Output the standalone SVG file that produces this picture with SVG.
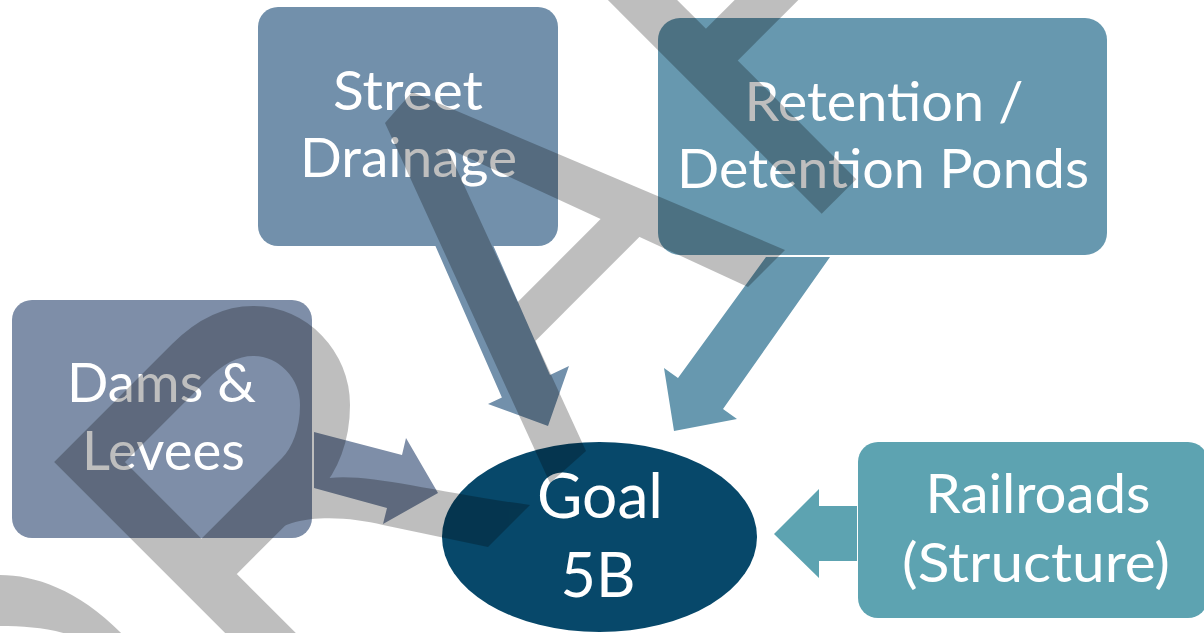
<svg xmlns="http://www.w3.org/2000/svg" width="1204" height="633" viewBox="0 0 1204 633">
<style>
.lbl{font-family:Lato,"Open Sans","Liberation Sans",sans-serif;font-size:54px;fill:#ffffff;text-anchor:middle}
.big{font-size:61px}
.band{fill:none;stroke:#000000;stroke-linejoin:miter}
.fillg{fill:#000000}
</style>
<rect width="1204" height="633" fill="#ffffff"/>
<g id="node-street-drainage">
<rect x="258" y="7" width="300" height="239" rx="20" fill="#7290ab"/>
<text class="lbl" x="408" y="110" textLength="150" lengthAdjust="spacingAndGlyphs">Street</text>
<text class="lbl" x="408.5" y="177" textLength="217" lengthAdjust="spacingAndGlyphs">Drainage</text>
</g>
<g id="node-retention">
<rect x="658" y="18" width="449" height="237" rx="22" fill="#6798af"/>
<text class="lbl" x="884" y="121" textLength="279" lengthAdjust="spacingAndGlyphs">Retention /</text>
<text class="lbl" x="883" y="188" textLength="412" lengthAdjust="spacingAndGlyphs">Detention Ponds</text>
</g>
<g id="node-dams">
<rect x="12" y="300" width="300" height="238" rx="20" fill="#7e8ea8"/>
<text class="lbl" x="161.5" y="402" textLength="189" lengthAdjust="spacingAndGlyphs">Dams &amp;</text>
<text class="lbl" x="163.5" y="470" textLength="163" lengthAdjust="spacingAndGlyphs">Levees</text>
</g>
<g id="node-railroads">
<rect x="858" y="442" width="350" height="176" rx="20" fill="#5da3b1"/>
<text class="lbl" x="1038" y="513" textLength="225" lengthAdjust="spacingAndGlyphs">Railroads</text>
<text class="lbl" x="1036" y="582" textLength="268" lengthAdjust="spacingAndGlyphs">(Structure)</text>
</g>
<g id="node-goal">
<ellipse cx="599.5" cy="537" rx="157.5" ry="95" fill="#07486a"/>
<text class="lbl big" x="600" y="518" textLength="126" lengthAdjust="spacingAndGlyphs">Goal</text>
<text class="lbl big" x="598" y="597" textLength="75" lengthAdjust="spacingAndGlyphs">5B</text>
</g>
<g id="connectors">
<polygon points="435,245 501.9,397.5 488,404 548,426 569,366 550,375 493,245" fill="#7290ab"/>
<polygon points="766,257 830,257 723,409 737,419 674,431 664,368 678,378" fill="#6798af"/>
<polygon points="314,432 402,455 406,438 438,493 383,524 387,508 314,488" fill="#7e8ea8"/>
<polygon points="857,506 819,506 819,489 774,534 819,578 819,561 857,561" fill="#5da3b1"/>
</g>
<g id="backdrop" opacity="0.25">
<path class="band" d="M560 -82.5 L839 196.5" stroke-width="49"/>
<path class="band" d="M704.5 62 L845 -78.5" stroke-width="45"/>
<polygon class="fillg" points="385,123 412,92 785,250 748,287 447,148 586,451 550,483"/>
<path class="band" d="M640 208 L505 343" stroke-width="40"/>
<path class="band" d="M287.5 660 L89.5 462 L190 361.5 C208 343.5 228 331 253 331 C293 331 325 365 325 405 C325 435 315 460 300 475.5 L201.5 574" stroke-width="50"/>
<path class="fillg" d="M530 505 L488 547 L383 525 C345 516 290 512 262 540 L233 574 L220 560 L290 470 L317 480 C360 470 420 490 530 505 Z"/>
<path class="fillg" d="M0 575 C35 575 80 590 124 636 L73 636 C50 628 25 626 0 626 Z"/>
</g>
</svg>
